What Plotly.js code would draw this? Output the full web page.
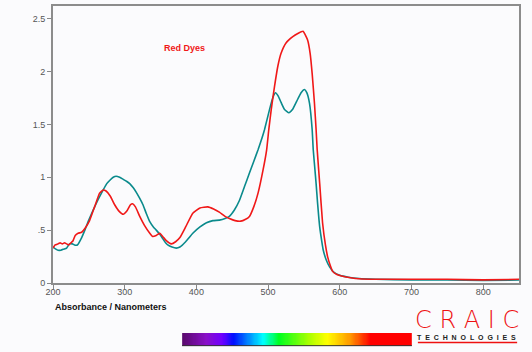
<!DOCTYPE html>
<html><head><meta charset="utf-8">
<script src="https://cdn.plot.ly/plotly-3.0.1.min.js"></script>
<style>html,body{margin:0;padding:0;background:#fbfbfd;}</style>
</head><body><div id="chart" style="width:532px;height:352px;"></div>
<script>
// Wavelengths (nm) and absorbance for the red curve
const redNm = [200,203,207,210,213,216,219,222,225,228,231,235,240,245,251,258,265,270,274,280,286,292,298,303,308,311,315,321,328,335,339,344,349,353,358,365,371,377,385,395,405,416,424,432,440,446,454,462,468,474,480,486,493,498,501,504.4,509,513.6,518,525,534.5,541.5,548.8,555,558.7,561.5,564.7,567,568.5,572,576,580,583,587,590,596,604,615,627,650,700,750,800,850];
const redAbs = [0.33,0.36,0.37,0.38,0.37,0.38,0.37,0.36,0.38,0.40,0.45,0.47,0.48,0.52,0.59,0.72,0.85,0.88,0.87,0.82,0.74,0.68,0.65,0.68,0.74,0.75,0.72,0.63,0.54,0.47,0.44,0.45,0.47,0.44,0.40,0.37,0.39,0.43,0.53,0.66,0.71,0.72,0.70,0.67,0.63,0.61,0.59,0.585,0.60,0.63,0.72,0.85,1.07,1.26,1.45,1.64,1.86,2.05,2.17,2.27,2.33,2.36,2.38,2.30,2.17,1.98,1.70,1.45,1.26,0.94,0.57,0.36,0.25,0.16,0.11,0.08,0.064,0.05,0.04,0.035,0.035,0.035,0.03,0.035];
// Teal curve
const tealNm = [200,204,207,211,215,219,223,227,230,234,240,245,249,256,263,270,275,279,284,288,293,298,303,307,312,316,321,325.5,330,335,340,344,349,353,357,360,366,372,377,385,395,405,414,423,432,440,446,453,460,467,474,480,486,490,495,502,507,510.4,514,518,523,529,534,540,546,550.8,554,557.8,561.5,563,565,567,569,572,575,577,581,586,592,600,612,627,650,700,750,800,850];
const tealAbs = [0.34,0.32,0.31,0.31,0.32,0.33,0.37,0.37,0.36,0.36,0.43,0.51,0.58,0.69,0.79,0.88,0.94,0.97,1.00,1.01,1.00,0.98,0.96,0.94,0.90,0.86,0.80,0.74,0.66,0.58,0.53,0.50,0.46,0.42,0.38,0.36,0.34,0.33,0.34,0.39,0.47,0.53,0.57,0.59,0.595,0.61,0.63,0.69,0.78,0.91,1.04,1.15,1.26,1.34,1.45,1.64,1.76,1.80,1.77,1.71,1.64,1.61,1.64,1.72,1.80,1.83,1.80,1.70,1.45,1.26,1.10,0.94,0.76,0.53,0.39,0.31,0.22,0.15,0.10,0.073,0.055,0.042,0.035,0.03,0.028,0.025,0.028];
const xTicks = [200,300,400,500,600,700,800];
const yTickVals = [0,0.5,1,1.5,2,2.5];
const yTickText = ['0','.5','1','1.5','2','2.5'];
const spectrumSteps = Array.from({length:200},(_,i)=>i);

const traces = [
  {x: tealNm, y: tealAbs, type:'scatter', mode:'lines', line:{color:'#0a8a8c', width:1.6, shape:'spline', smoothing:0.4}, hoverinfo:'skip'},
  {x: redNm, y: redAbs, type:'scatter', mode:'lines', line:{color:'#f01818', width:1.6, shape:'spline', smoothing:0.4}, hoverinfo:'skip'},
  {z:[spectrumSteps], type:'heatmap', xaxis:'x2', yaxis:'y2', showscale:false, zsmooth:'best', hoverinfo:'skip',
   colorscale:[[0,'#5a0a6e'],[0.1,'#8a10c8'],[0.17,'#7000ff'],[0.22,'#0010ff'],[0.35,'#00ffff'],[0.42,'#00ff20'],[0.55,'#aaff00'],[0.63,'#ffff00'],[0.73,'#ff9900'],[0.82,'#ff0000'],[1,'#ff0000']]}
];

const axFont = {family:'Arial, Liberation Sans, sans-serif', size:9, color:'#555'};
const sp = '\u00a0\u00a0';
const layout = {
  width:532, height:352,
  margin:{l:53, r:13, t:6, b:6},
  paper_bgcolor:'#fbfbfd', plot_bgcolor:'#fbfbfd',
  showlegend:false,
  xaxis:{range:[200,850], domain:[0,1], tickvals:xTicks, ticks:'outside', ticklen:4, tickcolor:'#888', tickwidth:1, ticklabelstandoff:-5,
    showline:true, mirror:true, linecolor:'#8c8c8c', linewidth:2, showgrid:false, zeroline:false, tickfont:axFont, anchor:'y'},
  yaxis:{range:[0,2.62], domain:[0.1853,1], tickvals:yTickVals, ticktext:yTickText, ticks:'outside', ticklen:4, tickcolor:'#888', tickwidth:1,
    showline:true, mirror:true, linecolor:'#8c8c8c', linewidth:2, showgrid:false, zeroline:false, tickfont:axFont, anchor:'x'},
  xaxis2:{domain:[0.277,0.770], anchor:'y2', visible:false, showgrid:false, zeroline:false},
  yaxis2:{domain:[0,0.0382], anchor:'x2', visible:false, showgrid:false, zeroline:false},
  annotations:[
    {text:'<b>Red Dyes</b>', x:384, y:2.22, xref:'x', yref:'y', showarrow:false, font:{family:'Arial, Liberation Sans, sans-serif', size:9, color:'#f01818'}},
    {text:'<b>Absorbance / Nanometers</b>', x:0, y:0.1147, xref:'paper', yref:'paper', xanchor:'left', yanchor:'middle', showarrow:false, font:{family:'Arial, Liberation Sans, sans-serif', size:9, color:'#111'}},
    {text:'C R A I C', x:0.888, y:0.0765, xref:'paper', yref:'paper', xanchor:'center', yanchor:'middle', showarrow:false, font:{family:'DejaVu Sans, sans-serif', size:24, color:'#ee1111', weight:300}},
    {text:'<b>'+['T','E','C','H','N','O','L','O','G','I','E','S'].join(sp)+'</b>', x:0.888, y:0.024, xref:'paper', yref:'paper', xanchor:'center', yanchor:'middle', showarrow:false, font:{family:'Arial, Liberation Sans, sans-serif', size:7, color:'#222'}}
  ],
  shapes:[
    {type:'line', xref:'paper', yref:'paper', x0:0.783, x1:0.996, y0:0.0103, y1:0.0103, line:{color:'#ee1111', width:1.5}},
    {type:'line', xref:'paper', yref:'paper', x0:0.277, x1:0.770, y0:0.001, y1:0.001, line:{color:'#333', width:1}}
  ]
};
Plotly.newPlot('chart', traces, layout, {staticPlot:true, displayModeBar:false});
</script></body></html>
